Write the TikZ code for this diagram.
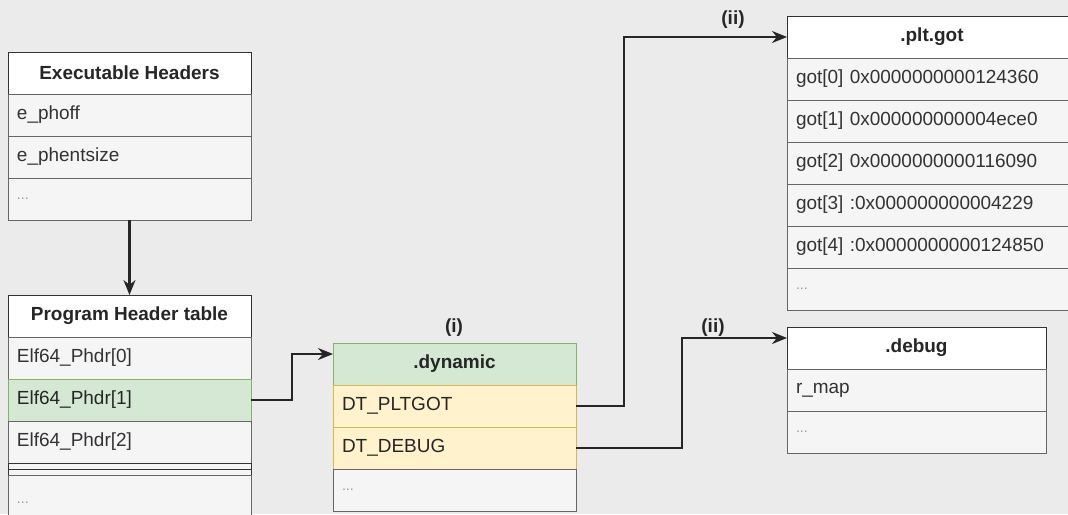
\documentclass[tikz,border=0pt]{standalone}
\usepackage{fontspec}
\setmainfont{Liberation Sans}
\usetikzlibrary{positioning, arrows.meta}
\definecolor{bgcol}{HTML}{EBEBEB}
\definecolor{rowfill}{HTML}{F5F5F5}
\definecolor{rowline}{HTML}{666666}
\definecolor{rowtext}{HTML}{333333}
\definecolor{grnfill}{HTML}{D5E8D4}
\definecolor{grnline}{HTML}{82B366}
\definecolor{ylwfill}{HTML}{FFF2CC}
\definecolor{ylwline}{HTML}{D6B656}
\tikzset{
  hdr/.style   = {draw=black!80, fill=white, minimum width=#1, minimum height=0.84cm, outer sep=0pt, inner sep=0pt, font=\fontsize{10.8}{12}\selectfont\bfseries, text=black!85},
  row/.style   = {draw=rowline, fill=rowfill, text width=#1, inner xsep=0.18cm, inner ysep=0pt, minimum height=0.84cm, outer sep=0pt, align=left, font=\fontsize{10.8}{12}\selectfont, text=rowtext},
  dots/.style  = {row=#1, font=\fontsize{8}{9}\selectfont, text=black!40},
  thin/.style  = {draw=black!80, fill=rowfill, minimum width=4.86cm, minimum height=0.12cm, inner sep=0pt, outer sep=0pt},
  lbl/.style   = {font=\fontsize{10.8}{12}\selectfont\bfseries, text=black!85},
  arrow/.style = {-{Stealth[length=3mm, width=2.4mm]}, line width=1.2pt, black!85}
}

\begin{document}
\begin{tikzpicture}[x=0.02cm, y=-0.02cm, node distance=0pt]
  \fill[bgcol] (0,0) rectangle (1068,514);
  \useasboundingbox (0,0) rectangle (1068,514);

  % executable headers
  \node[hdr=4.86cm, anchor=north west] (eh) at (8,52) {Executable Headers};
  \node[row=4.5cm, below=of eh] (phoff) {e\_phoff};
  \node[row=4.5cm, below=of phoff] (phent) {e\_phentsize};
  \node[dots=4.5cm, below=of phent] (ehd) {...};

  % program header table
  \node[hdr=4.86cm, anchor=north west] (pht) at (8,295) {Program Header table};
  \node[row=4.5cm, below=of pht] (ph0) {Elf64\_Phdr[0]};
  \node[row=4.5cm, below=of ph0, fill=grnfill, draw=grnline, text=black!85] (ph1) {Elf64\_Phdr[1]};
  \node[row=4.5cm, below=of ph1] (ph2) {Elf64\_Phdr[2]};
  \node[thin, below=of ph2] (sep1) {};
  \node[thin, below=of sep1] (sep2) {};
  \node[dots=4.5cm, below=of sep2, minimum height=1.1cm] (phd) {...};

  % .dynamic
  \node[hdr=4.86cm, anchor=north west, fill=grnfill, draw=grnline] (dyn) at (333,343) {.dynamic};
  \node[row=4.5cm, below=of dyn, fill=ylwfill, draw=ylwline, text=black!85] (pltgot) {DT\_PLTGOT};
  \node[row=4.5cm, below=of pltgot, fill=ylwfill, draw=ylwline, text=black!85] (debug) {DT\_DEBUG};
  \node[dots=4.5cm, below=of debug] (dynd) {...};

  % .plt.got
  \node[hdr=5.8cm, anchor=north west] (plt) at (787,16) {.plt.got};
  \node[row=5.44cm, below=of plt] (got0) {got[0] 0x0000000000124360};
  \node[row=5.44cm, below=of got0] (got1) {got[1] 0x000000000004ece0};
  \node[row=5.44cm, below=of got1] (got2) {got[2] 0x0000000000116090};
  \node[row=5.44cm, below=of got2] (got3) {got[3] :0x000000000004229};
  \node[row=5.44cm, below=of got3] (got4) {got[4] :0x0000000000124850};
  \node[dots=5.44cm, below=of got4] (gotd) {...};

  % .debug
  \node[hdr=5.18cm, anchor=north west] (dbg) at (787,327) {.debug};
  \node[row=4.82cm, below=of dbg] (rmap) {r\_map};
  \node[dots=4.82cm, below=of rmap] (dbgd) {...};

  % labels
  \node[lbl] (li) at (454,328) {(i)};
  \node[lbl] (lii) at (733,20) {(ii)};
  \node[lbl] (liii) at (713,328) {(ii)};

  % connectors
  \draw[arrow] (ehd) -- (pht);
  \draw[arrow] (ph1.east) -- ++(41,0) |- ([yshift=-0.22cm]dyn.north west);
  \draw[arrow] (pltgot.east) -- ++(48,0) |- (plt.west);
  \draw[arrow] (debug.east) -- ++(106,0) |- ([yshift=-0.22cm]dbg.north west);
\end{tikzpicture}
\end{document}
